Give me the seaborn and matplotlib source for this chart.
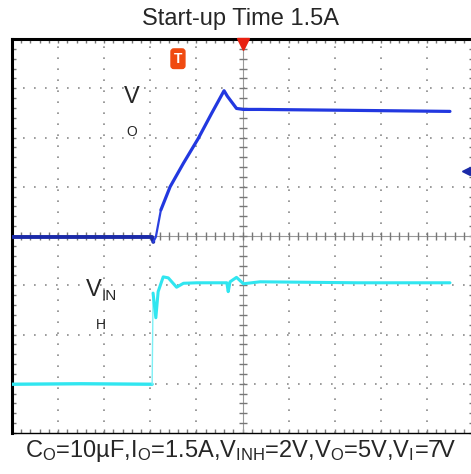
import numpy as np
import pandas as pd
import seaborn as sns
import matplotlib.pyplot as plt

# traces, in scope divisions (x: 0..10, y: 0..8 from bottom)
vo_x = [0.0, 1.5, 3.04, 3.065, 3.12, 3.23, 3.43, 3.72, 4.04, 4.33, 4.60, 4.67, 4.87, 5.02, 5.38, 7.5, 9.50]
vo_y = [3.98, 3.98, 3.98, 3.88, 3.98, 4.53, 5.00, 5.48, 5.98, 6.49, 6.95, 6.84, 6.59, 6.57, 6.57, 6.55, 6.53]
vinh_x = [0.0, 1.5, 3.04, 3.06, 3.12, 3.17, 3.28, 3.39, 3.57, 3.72, 4.01, 4.66, 4.69, 4.73, 4.87, 5.02, 5.38, 7.5, 9.50]
vinh_y = [0.99, 1.0, 0.99, 2.84, 2.34, 2.87, 3.17, 3.15, 2.96, 3.04, 3.05, 3.05, 2.87, 3.07, 3.16, 3.03, 3.07, 3.05, 3.05]

title = "Start-up Time 1.5A"
caption = (r"C$_\mathregular{O}$=10µF,I$_\mathregular{O}$=1.5A,V$_\mathregular{INH}$=2V,"
           r"V$_\mathregular{O}$=5V,V$_\mathregular{I}$=7V")

sns.set_style("white")
plt.rcParams['font.family'] = ['Liberation Sans', 'DejaVu Sans']
plt.rcParams['mathtext.default'] = 'regular'

fig = plt.figure(figsize=(4.71, 4.74), dpi=100)
ax = fig.add_axes([12 / 471, 41 / 474, 461 / 471, 394 / 474])
ax.set_xlim(0, 10)
ax.set_ylim(0, 8)

# graticule dots
for gx in range(1, 10):
    if gx != 5:
        ax.axvline(gx, color='#8a8a8a', lw=1.2, ls=(0, (1, 5.6)), zorder=1)
for gy in range(1, 8):
    if gy != 4:
        ax.axhline(gy, color='#8a8a8a', lw=1.2, ls=(0, (1, 5.6)), zorder=1)

# centre crosshair with minor ticks
ax.axvline(5, color='#9a9a9a', lw=0.8, zorder=1)
ax.axhline(4, color='#9a9a9a', lw=0.8, zorder=1)
minor_x = np.arange(0, 10.01, 0.2)
minor_y = np.arange(0, 8.01, 0.2)
ax.plot(minor_x, np.full_like(minor_x, 4), ls='none', marker='|', ms=6, mew=1, color='#777777', zorder=1)
ax.plot(np.full_like(minor_y, 5), minor_y, ls='none', marker='_', ms=6, mew=1, color='#777777', zorder=1)

ax.set_xticks(minor_x)
ax.set_yticks(minor_y)
ax.set_xticklabels([])
ax.set_yticklabels([])
ax.tick_params(direction='in', length=3, width=1, color='#777777',
               top=True, right=True, bottom=True, left=True)

for side in ['top', 'left']:
    ax.spines[side].set_linewidth(2.2)
for side in ['bottom', 'right']:
    ax.spines[side].set_linewidth(1.0)
for sp in ax.spines.values():
    sp.set_color('black')

vo = pd.DataFrame({'x': vo_x, 'y': vo_y})
vinh = pd.DataFrame({'x': vinh_x, 'y': vinh_y})
kw = dict(ax=ax, x='x', y='y', sort=False, estimator=None)
# VINH: baseline, fast thin edge, settled level
sns.lineplot(data=vinh.iloc[:3], color='#30e6f0', lw=2.4, zorder=3, **kw)
sns.lineplot(data=vinh.iloc[2:4], color='#7ef0f6', lw=1.0, zorder=3, **kw)
sns.lineplot(data=vinh.iloc[3:], color='#30e6f0', lw=2.2, zorder=3, **kw)
# VO
sns.lineplot(data=vo.iloc[:4], color='#1a2aa8', lw=2.8, zorder=4, **kw)
sns.lineplot(data=vo.iloc[3:6], color='#2a40e0', lw=1.6, zorder=4, **kw)
sns.lineplot(data=vo.iloc[5:], color='#2238e0', lw=2.3, zorder=4, **kw)
ax.set_xlabel('')
ax.set_ylabel('')

# scope markers
ax.plot([5.0], [7.9], marker='v', ms=8, color='#e82010', clip_on=False, zorder=5)
ax.text(3.6, 7.6, 'T', color='white', fontsize=10, fontweight='bold', ha='center', va='center',
        bbox=dict(boxstyle='round,pad=0.2', fc='#f04a10', ec='#f04a10'), zorder=5)
ax.plot([9.85], [5.32], marker='<', ms=6, color='#1a2aa8', zorder=5)
ax.plot([9.85, 10.0], [5.32, 5.32], color='#1a2aa8', lw=2, zorder=5)

# trace labels
ax.text(2.60, 6.82, 'V', fontsize=17, ha='center', va='center')
ax.text(2.60, 6.11, 'O', fontsize=10, ha='center', va='center')
ax.text(1.77, 2.90, 'V', fontsize=17, ha='center', va='center')
ax.text(2.12, 2.79, 'IN', fontsize=11, ha='center', va='center')
ax.text(1.92, 2.19, 'H', fontsize=10, ha='center', va='center')

fig.text(241 / 471, 1 - 19 / 474, title, fontsize=17, ha='center', va='center')
fig.text(241 / 471, 1 - 451 / 474, caption, fontsize=17, ha='center', va='center')

fig.savefig('out.png', dpi=100)
